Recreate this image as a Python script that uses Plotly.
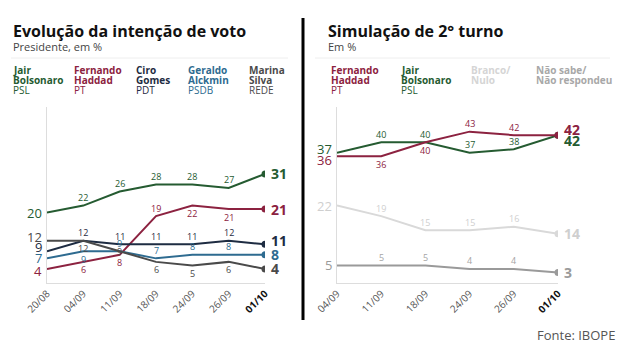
import plotly.graph_objects as go

# ---------------- data ----------------
dates1 = ["20/08", "04/09", "11/09", "18/09", "24/09", "26/09", "01/10"]
bolsonaro1 = [20, 22, 26, 28, 28, 27, 31]
haddad1 = [4, 6, 8, 19, 22, 21, 21]
ciro1 = [9, 12, 11, 11, 11, 12, 11]
alckmin1 = [7, 9, 9, 7, 8, 8, 8]
marina1 = [12, 12, 9, 6, 5, 6, 4]

dates2 = ["04/09", "11/09", "18/09", "24/09", "26/09", "01/10"]
haddad2 = [36, 36, 40, 43, 42, 42]
bolsonaro2 = [37, 40, 40, 37, 38, 42]
branco2 = [22, 19, 15, 15, 16, 14]
naosabe2 = [5, 5, 5, 4, 4, 3]

# ---------------- styles ----------------
FONT = "Open Sans"
GREEN = "#255b31"
RED = "#8c2240"
NAVY = "#1e2c42"
BLUE = "#2e6b90"
GRAY = "#4a4a4a"
LIGHT = "#d9d9d9"
MID = "#9a9a9a"

# label placement (+1 above, -1 below, 0 on point) for intermediate points
series1 = [
    dict(y=bolsonaro1, color=GREEN, lab=GREEN, pos=[0, 1, 1, 1, 1, 1, 0], s0=0, s1=0),
    dict(y=haddad1, color=RED, lab=RED, pos=[0, -1, -1, 1, -1, -1, 0], s0=-2, s1=0),
    dict(y=ciro1, color=NAVY, lab=NAVY, pos=[0, 1, 1, 1, 1, 1, 0], s0=4, s1=4),
    dict(y=alckmin1, color=BLUE, lab=BLUE, pos=[0, -1, 1, 1, 1, 1, 0], s0=0, s1=0),
    dict(y=marina1, color=GRAY, lab=GRAY, pos=[0, -1, 0, -1, -1, -1, 0], s0=4, s1=0),
]
series2 = [
    dict(y=branco2, color=LIGHT, lab="#cfcfcf", pos=[0, 1, 1, 1, 1, 0], s0=0, s1=0),
    dict(y=naosabe2, color=MID, lab="#a5a5a5", pos=[0, 1, 1, 1, 1, 0], s0=0, s1=0),
    dict(y=bolsonaro2, color=GREEN, lab=GREEN, pos=[0, 1, 1, 1, 1, 0], s0=4, s1=-5),
    dict(y=haddad2, color=RED, lab=RED, pos=[0, -1, -1, 1, 1, 0], s0=-4, s1=6),
]

fig = go.Figure()
ann = []


def add_series(s, xa, ya, n):
    xs = list(range(n))
    c_txt = s["color"] if s["color"] != LIGHT else "#cfcfcf"
    fig.add_trace(go.Scatter(
        x=xs, y=s["y"], xaxis=xa, yaxis=ya, mode="lines",
        line=dict(color=s["color"], width=2), hoverinfo="skip", showlegend=False))
    fig.add_trace(go.Scatter(
        x=[xs[-1]], y=[s["y"][-1]], xaxis=xa, yaxis=ya, mode="markers",
        marker=dict(color=s["color"], size=7), hoverinfo="skip", showlegend=False))
    ann.append(dict(x=0, y=s["y"][0], xref=xa, yref=ya, text=str(s["y"][0]),
                    showarrow=False, xanchor="right", xshift=-3, yshift=s["s0"],
                    font=dict(family=FONT, size=13, color=c_txt)))
    ann.append(dict(x=n - 1, y=s["y"][-1], xref=xa, yref=ya, text="<b>%d</b>" % s["y"][-1],
                    showarrow=False, xanchor="left", xshift=4, yshift=s["s1"],
                    font=dict(family=FONT, size=14, color=c_txt)))
    for i in range(1, n - 1):
        p = s["pos"][i]
        ann.append(dict(x=i, y=s["y"][i], xref=xa, yref=ya, text=str(s["y"][i]),
                        showarrow=False, yshift=8 * p,
                        font=dict(family=FONT, size=9, color=s["lab"])))


for s in series1:
    add_series(s, "x", "y", len(dates1))
for s in series2:
    add_series(s, "x2", "y2", len(dates2))

W, H = 620, 350


def px(x):
    return x / W


def py(y):
    return 1 - y / H


ydom = [py(283), py(107)]
axis_common = dict(showgrid=False, zeroline=False, showline=True, linecolor="#dddddd",
                   linewidth=1, ticks="", tickangle=-45, automargin=False,
                   tickfont=dict(family=FONT, size=10, color="#555555"))
yaxis_common = dict(range=[0, 50], showgrid=False, zeroline=False, showline=True,
                    linecolor="#dddddd", showticklabels=False, ticks="", automargin=False)

tick1 = dates1[:-1] + ["<b style='color:#111'>" + dates1[-1] + "</b>"]
tick2 = dates2[:-1] + ["<b style='color:#111'>" + dates2[-1] + "</b>"]

fig.update_layout(
    width=W, height=H, margin=dict(l=0, r=0, t=0, b=0, autoexpand=False),
    paper_bgcolor="white", plot_bgcolor="white",
    xaxis=dict(domain=[px(47), px(265)], range=[0, 6], tickvals=list(range(7)),
               ticktext=tick1, anchor="y", **axis_common),
    yaxis=dict(domain=ydom, anchor="x", **yaxis_common),
    xaxis2=dict(domain=[px(337), px(558)], range=[0, 5], tickvals=list(range(6)),
                ticktext=tick2, anchor="y2", **axis_common),
    yaxis2=dict(domain=ydom, anchor="x2", **yaxis_common),
)


def text(x, y, t, size, color, anchor="left", bold=False):
    ann.append(dict(x=px(x), y=py(y), xref="paper", yref="paper",
                    text=("<b>%s</b>" % t) if bold else t, showarrow=False,
                    xanchor=anchor, yanchor="middle",
                    font=dict(family=FONT, size=size, color=color)))


# titles
text(11, 31, "Evolução da intenção de voto", 16, "#111111", bold=True)
text(11, 46, "Presidente, em %", 11, "#444444")
text(326, 31, "Simulação de 2° turno", 16, "#111111", bold=True)
text(326, 46, "Em %", 11, "#444444")

# legend headers
legend1 = [
    (11, ["Jair", "Bolsonaro"], "PSL", GREEN),
    (72, ["Fernando", "Haddad"], "PT", RED),
    (134, ["Ciro", "Gomes"], "PDT", NAVY),
    (186, ["Geraldo", "Alckmin"], "PSDB", BLUE),
    (247, ["Marina", "Silva"], "REDE", GRAY),
]
legend2 = [
    (329, ["Fernando", "Haddad"], "PT", RED),
    (399, ["Jair", "Bolsonaro"], "PSL", GREEN),
    (469, ["Branco/", "Nulo"], "", "#d5d5d5"),
    (534, ["Não sabe/", "Não respondeu"], "", "#a8a8a8"),
]
for x, names, party, c in legend1 + legend2:
    text(x, 70, names[0], 10, c, bold=True)
    text(x, 80, names[1], 10, c, bold=True)
    if party:
        text(x, 90, party, 10, c)

# source
text(617, 335, "Fonte: IBOPE", 13, "#555555", anchor="right")

shapes = [
    dict(type="line", xref="paper", yref="paper", x0=px(11), x1=px(288), y0=py(58), y1=py(58),
         line=dict(color="#eeeeee", width=1)),
    dict(type="line", xref="paper", yref="paper", x0=px(315), x1=px(610), y0=py(58), y1=py(58),
         line=dict(color="#eeeeee", width=1)),
    dict(type="line", xref="paper", yref="paper", x0=px(303), x1=px(303), y0=py(18), y1=py(320),
         line=dict(color="black", width=3)),
]

fig.update_layout(annotations=ann, shapes=shapes)
fig.write_html("out.html")
